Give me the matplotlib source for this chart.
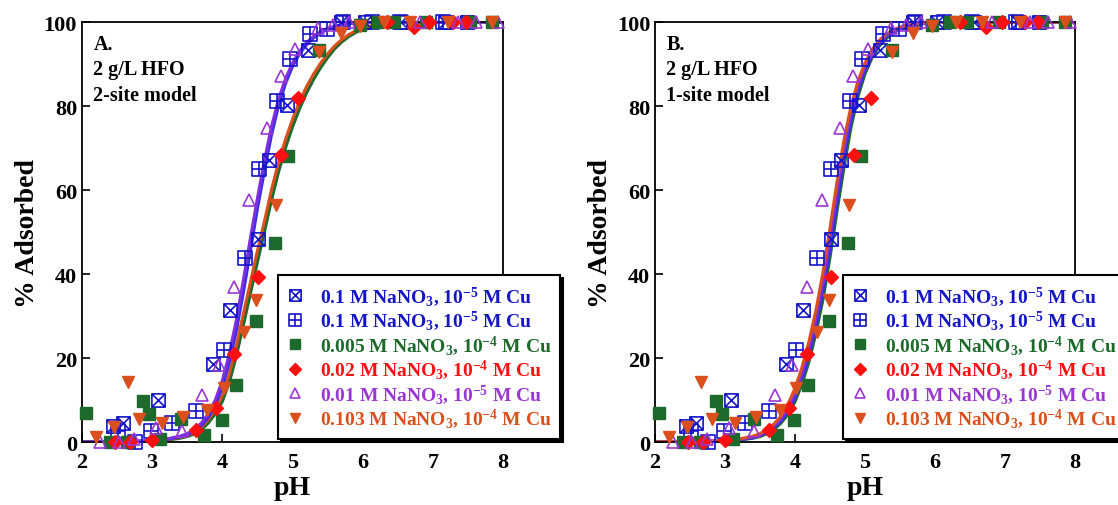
import matplotlib
matplotlib.use("Agg")
import matplotlib.pyplot as plt
from matplotlib.path import Path

plt.rcParams['font.family'] = ['Liberation Serif', 'DejaVu Serif']
plt.rcParams['font.weight'] = 'bold'
plt.rcParams['mathtext.fontset'] = 'custom'
plt.rcParams['mathtext.rm'] = 'Liberation Serif:bold'
plt.rcParams['mathtext.it'] = 'Liberation Serif:bold'
plt.rcParams['mathtext.bf'] = 'Liberation Serif:bold'

# ---------------- data ----------------
labels = ["0.1 M NaNO$_3$, 10$^{-5}$ M Cu",
          "0.1 M NaNO$_3$, 10$^{-5}$ M Cu",
          "0.005 M NaNO$_3$, 10$^{-4}$ M Cu",
          "0.02 M NaNO$_3$, 10$^{-4}$ M Cu",
          "0.01 M NaNO$_3$, 10$^{-5}$ M Cu",
          "0.103 M NaNO$_3$, 10$^{-4}$ M Cu"]

s1_ph = [2.44, 2.58, 3.09, 3.87, 4.11, 4.51, 4.66, 4.92, 5.22, 5.69, 6.03, 6.55, 7.18, 7.49]
s1_y = [3.9, 4.5, 10.0, 18.6, 31.4, 48.3, 67.1, 80.2, 93.4, 100, 100, 100, 100, 100]

s2_ph = [2.52, 2.75, 2.98, 3.29, 3.63, 4.02, 4.32, 4.52, 4.78, 4.96, 5.25, 5.49, 5.72, 6.13, 6.53, 7.15]
s2_y = [2.7, 0, 2.7, 4.5, 7.5, 22.0, 43.7, 65.0, 81.3, 91.3, 97.2, 98.3, 100, 100, 100, 100]

s3_ph = [2.06, 2.40, 2.64, 2.87, 2.95, 3.11, 3.41, 3.74, 3.99, 4.19, 4.48, 4.75, 4.94, 5.38,
         5.96, 6.22, 6.45, 6.91, 7.53, 7.85]
s3_y = [6.9, 0, 0, 9.8, 6.7, 0.7, 5.5, 1.7, 5.3, 13.6, 28.7, 47.3, 68.2, 93.4,
        99.4, 100, 100, 100, 100, 100]

s4_ph = [2.47, 2.68, 3.00, 3.63, 3.91, 4.17, 4.51, 4.84, 5.08, 6.35, 6.73, 6.95, 7.29, 7.47]
s4_y = [0, 0, 0.5, 2.9, 8.2, 21.0, 39.4, 68.4, 81.8, 100, 98.8, 100, 100, 100]

s5_ph = [2.26, 2.53, 2.74, 3.05, 3.42, 3.71, 3.96, 4.17, 4.38, 4.64, 4.83, 5.04, 5.37, 5.58,
         5.80, 6.82, 7.36, 7.62, 7.93]
s5_y = [0, 0, 0.6, 3.3, 2.7, 11.2, 18.3, 36.8, 57.6, 74.7, 87.2, 93.6, 98.6, 99.4,
        100, 100, 100, 100, 100]

s6_ph = [2.20, 2.45, 2.66, 2.82, 3.14, 3.44, 3.78, 4.02, 4.31, 4.48, 4.77, 5.38, 5.69, 5.96,
         6.30, 6.67, 7.22, 7.85]
s6_y = [1.3, 3.5, 14.4, 5.5, 4.5, 5.9, 7.7, 12.8, 26.1, 33.8, 56.4, 92.8, 97.4, 99.0,
        100, 100, 100, 100]

# model curves
curve_ph = [2.0, 3.0, 3.2, 3.4, 3.5, 3.6, 3.7, 3.8, 3.9, 4.0, 4.1, 4.2, 4.3, 4.4, 4.5, 4.6,
            4.7, 4.8, 4.9, 5.0, 5.1, 5.2, 5.3, 5.4, 5.5, 5.6, 5.7, 5.8, 5.9, 6.0, 6.2, 6.4,
            6.6, 7.0, 8.0]
A_purple = [0, 0.3, 0.7, 1.4, 2.0, 3.0, 4.5, 6.7, 10.0, 14.6, 21.0, 29.0, 38.5, 48.5, 58.0, 67.0,
            75.0, 81.5, 86.5, 90.2, 93.0, 95.1, 96.6, 97.7, 98.5, 99.0, 99.4, 99.6, 99.8, 99.9,
            100, 100, 100, 100, 100]
A_blue = [0, 0.25, 0.6, 1.2, 1.7, 2.6, 3.9, 5.8, 8.8, 13.0, 19.0, 26.5, 35.5, 45.5, 55.5, 64.5,
          73.0, 80.0, 85.3, 89.4, 92.4, 94.6, 96.2, 97.4, 98.3, 98.9, 99.3, 99.6, 99.8, 99.9,
          100, 100, 100, 100, 100]
A_orange = [0, 0.2, 0.5, 1.1, 1.6, 2.3, 3.5, 5.3, 7.8, 11.0, 16.2, 23.0, 30.5, 38.0, 45.5, 52.5,
            60.0, 66.5, 72.0, 76.8, 81.0, 84.6, 87.6, 90.2, 92.4, 94.3, 95.8, 97.0, 97.9, 98.6,
            99.4, 99.8, 100, 100, 100]
A_green = [0, 0.15, 0.4, 0.9, 1.3, 1.9, 2.9, 4.5, 6.7, 9.6, 14.2, 20.5, 27.8, 35.3, 42.8, 50.0,
           57.5, 64.2, 70.0, 75.0, 79.3, 83.1, 86.3, 89.1, 91.5, 93.6, 95.2, 96.5, 97.5, 98.3,
           99.2, 99.7, 99.9, 100, 100]
B_orange = [0, 0.3, 0.7, 1.4, 2.0, 3.0, 4.3, 6.2, 9.0, 12.8, 17.8, 24.0, 31.5, 40.5, 51.0, 62.0,
            72.0, 80.0, 86.0, 90.3, 93.4, 95.6, 97.1, 98.1, 98.8, 99.3, 99.6, 99.8, 99.9, 100,
            100, 100, 100, 100, 100]
B_purple = [0, 0.25, 0.6, 1.2, 1.7, 2.6, 3.8, 5.5, 8.0, 11.5, 16.2, 22.0, 29.5, 38.0, 48.5, 59.5,
            69.8, 78.3, 84.8, 89.4, 92.7, 95.1, 96.7, 97.8, 98.6, 99.1, 99.5, 99.7, 99.9, 100,
            100, 100, 100, 100, 100]
B_blue = [0, 0.2, 0.5, 1.0, 1.5, 2.3, 3.4, 5.0, 7.3, 10.5, 15.0, 20.5, 27.8, 36.0, 46.3, 57.3,
          67.8, 76.7, 83.6, 88.6, 92.1, 94.6, 96.4, 97.6, 98.5, 99.0, 99.4, 99.7, 99.9, 100,
          100, 100, 100, 100, 100]
B_green = [0, 0.15, 0.45, 0.9, 1.3, 2.0, 3.0, 4.5, 6.6, 9.6, 13.8, 19.2, 26.0, 34.0, 44.0, 55.0,
           65.5, 75.0, 82.3, 87.7, 91.5, 94.2, 96.0, 97.4, 98.3, 98.9, 99.3, 99.6, 99.8, 99.95,
           100, 100, 100, 100, 100]

x_ticks = [2, 3, 4, 5, 6, 7, 8]
y_ticks = [0, 20, 40, 60, 80, 100]
panel_text = ["A.\n2 g/L HFO\n2-site model", "B.\n2 g/L HFO\n1-site model"]

# ---------------- styles ----------------
BLUE = '#1414c8'
GREEN = '#1d6a2c'
RED = '#ff1010'
PURPLE = '#9a36d4'
ORANGE = '#da4f1c'
LBLUE = '#3a2ee0'
LPURPLE = '#7f2fe0'

sq_x = Path([(-1, -1), (1, -1), (1, 1), (-1, 1), (-1, -1), (-1, -1), (1, 1), (-1, 1), (1, -1)],
            [Path.MOVETO, Path.LINETO, Path.LINETO, Path.LINETO, Path.CLOSEPOLY,
             Path.MOVETO, Path.LINETO, Path.MOVETO, Path.LINETO])
sq_p = Path([(-1, -1), (1, -1), (1, 1), (-1, 1), (-1, -1), (0, -1), (0, 1), (-1, 0), (1, 0)],
            [Path.MOVETO, Path.LINETO, Path.LINETO, Path.LINETO, Path.CLOSEPOLY,
             Path.MOVETO, Path.LINETO, Path.MOVETO, Path.LINETO])

series = [
    (s1_ph, s1_y, dict(marker=sq_x, mfc='none', mec=BLUE, ms=9.5, mew=1.2), BLUE),
    (s2_ph, s2_y, dict(marker=sq_p, mfc='none', mec=BLUE, ms=9.5, mew=1.2), BLUE),
    (s3_ph, s3_y, dict(marker='s', mfc=GREEN, mec=GREEN, ms=9), GREEN),
    (s4_ph, s4_y, dict(marker='D', mfc=RED, mec=RED, ms=7), RED),
    (s5_ph, s5_y, dict(marker='^', mfc='none', mec=PURPLE, ms=9, mew=1.2), PURPLE),
    (s6_ph, s6_y, dict(marker='v', mfc=ORANGE, mec=ORANGE, ms=9), ORANGE),
]

fig = plt.figure(figsize=(11.18, 5.06), dpi=100)
axA = fig.add_axes([0.0733, 0.1245, 0.3766, 0.83])
axB = fig.add_axes([0.5859, 0.1245, 0.3757, 0.83])

curvesA = [(A_green, GREEN), (A_orange, ORANGE), (A_blue, LBLUE), (A_purple, LPURPLE)]
curvesB = [(B_green, GREEN), (B_blue, LBLUE), (B_purple, LPURPLE), (B_orange, ORANGE)]

for ax, curves, txt, lx in [(axA, curvesA, panel_text[0], 0.466),
                            (axB, curvesB, panel_text[1], 0.448)]:
    for vals, c in curves:
        ax.plot(curve_ph, vals, color=c, lw=2.2, zorder=2)
    handles = []
    for ph, y, st, c in series:
        h, = ax.plot(ph, y, linestyle='none', clip_on=False, zorder=3, **st)
        handles.append(h)
    ax.set_xlim(2, 8)
    ax.set_ylim(0, 100)
    ax.set_xticks(x_ticks)
    ax.set_yticks(y_ticks)
    ax.tick_params(direction='in', length=6, width=1.2, labelsize=16, top=False, right=False)
    ax.tick_params(axis='x', pad=7)
    for sp in ax.spines.values():
        sp.set_linewidth(1.3)
    ax.set_xlabel('pH', fontsize=20, fontweight='bold', labelpad=2)
    ax.set_ylabel('% Adsorbed', fontsize=20, fontweight='bold', labelpad=3)
    ax.text(0.027, 0.972, txt, transform=ax.transAxes, ha='left', va='top',
            fontsize=14.5, fontweight='bold', linespacing=1.36)
    leg = ax.legend(handles, labels, loc='upper left', bbox_to_anchor=(lx, 0.397),
                    borderaxespad=0, frameon=True, fancybox=False, shadow={'color': 'black', 'alpha': 1},
                    prop={'family': 'Liberation Serif', 'weight': 'bold', 'size': 14},
                    labelcolor=[s[3] for s in series], handlelength=0.8, handletextpad=0.9,
                    labelspacing=0.04, borderpad=0.45, markerscale=0.85)
    leg.get_frame().set_edgecolor('black')
    leg.get_frame().set_linewidth(1.5)
    leg.set_zorder(5)

fig.savefig('out.png', dpi=100)
